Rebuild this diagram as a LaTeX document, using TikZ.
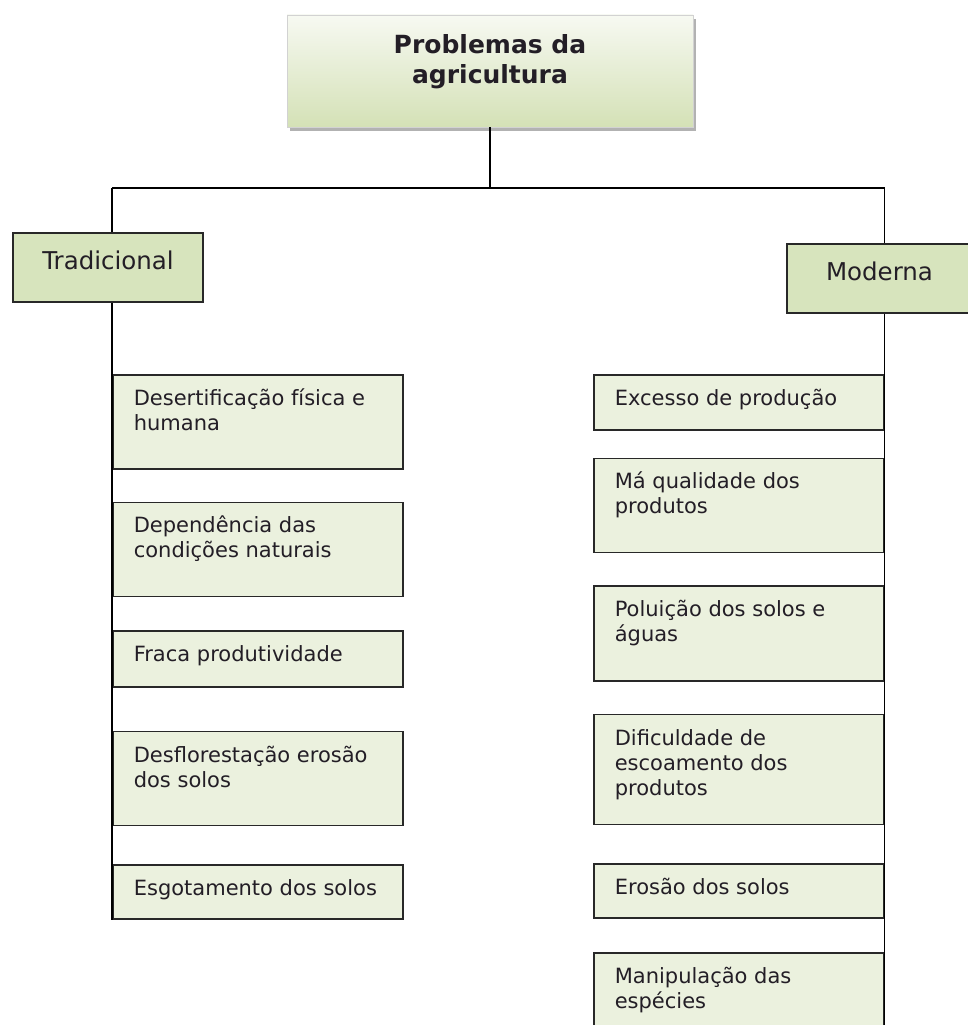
\documentclass[tikz,border=0pt]{standalone}
\usepackage{fontspec}
\setmainfont{DejaVu Sans}
\usetikzlibrary{positioning, shadows}
\definecolor{topwhite}{RGB}{247,249,242}
\definecolor{topgreen}{RGB}{212,225,182}
\definecolor{catgreen}{RGB}{215,228,189}
\definecolor{itemgreen}{RGB}{235,241,222}
\definecolor{edgegray}{RGB}{40,40,40}
\definecolor{inkgray}{RGB}{35,30,38}
\tikzset{
    topbox/.style={rectangle, minimum width=406pt, minimum height=112pt, align=center, draw=gray!35, top color=topwhite, bottom color=topgreen, drop shadow={shadow xshift=3pt, shadow yshift=-4pt, fill=gray!60, opacity=1}, text=inkgray, font=\fontsize{25}{30}\selectfont\bfseries, text depth=23pt},
    category/.style={rectangle, minimum height=69pt, draw=edgegray, line width=1.6pt, fill=catgreen, text=inkgray, font=\fontsize{24.5}{29}\selectfont, text height=18pt, text depth=15pt},
    item/.style={rectangle, minimum width=290pt, inner xsep=21pt, inner ysep=13pt, draw=edgegray, line width=1.6pt, fill=itemgreen, text=inkgray, font=\fontsize{21}{25}\selectfont},
    link/.style={line width=1.7pt, black}
}
\newcommand{\itemtext}[2]{\parbox[c][#1][t]{248pt}{\raggedright\strut#2}}

\begin{document}
\begin{tikzpicture}[x=1pt, y=-1pt]
    \useasboundingbox (0,0) rectangle (968,1025);

    \node (title) [topbox] at (490,71) {Problemas da\\agricultura};

    \node (trad) [category, minimum width=190pt] at (108,267.5) {Tradicional};
    \node (mod) [category, minimum width=185pt] at (879.5,278.5) {Moderna};

    % tradicional
    \node (l1) [item, anchor=north west] at (112,374) {\itemtext{68pt}{Desertificação física e\\humana}};
    \node (l2) [item, below=32pt of l1] {\itemtext{68pt}{Dependência das\\condições naturais}};
    \node (l3) [item, below=33pt of l2] {\itemtext{30pt}{Fraca produtividade}};
    \node (l4) [item, below=43pt of l3] {\itemtext{68pt}{Desflorestação erosão\\dos solos}};
    \node (l5) [item, below=38pt of l4] {\itemtext{28pt}{Esgotamento dos solos}};

    % moderna
    \node (r1) [item, anchor=north west] at (593,374) {\itemtext{29pt}{Excesso de produção}};
    \node (r2) [item, below=27pt of r1] {\itemtext{68pt}{Má qualidade dos\\produtos}};
    \node (r3) [item, below=32pt of r2] {\itemtext{69pt}{Poluição dos solos e\\águas}};
    \node (r4) [item, below=32pt of r3] {\itemtext{84pt}{Dificuldade de\\escoamento dos\\produtos}};
    \node (r5) [item, below=38pt of r4] {\itemtext{28pt}{Erosão dos solos}};
    \node (r6) [item, below=33pt of r5] {\itemtext{94pt}{Manipulação das\\espécies}};

    \draw [link] (title.south) -- ++(0,61) coordinate (fork);
    \draw [link] (fork -| l1.west) -- (fork -| r1.east);
    \draw [link] (fork -| l1.west) -- (l1.west |- trad.north);
    \draw [link] (l1.west |- trad.south) -- (l5.south west);
    \draw [link] (fork -| r1.east) -- (r1.east |- mod.north);
    \draw [link] (r1.east |- mod.south) -- (r6.south east);
\end{tikzpicture}
\end{document}
